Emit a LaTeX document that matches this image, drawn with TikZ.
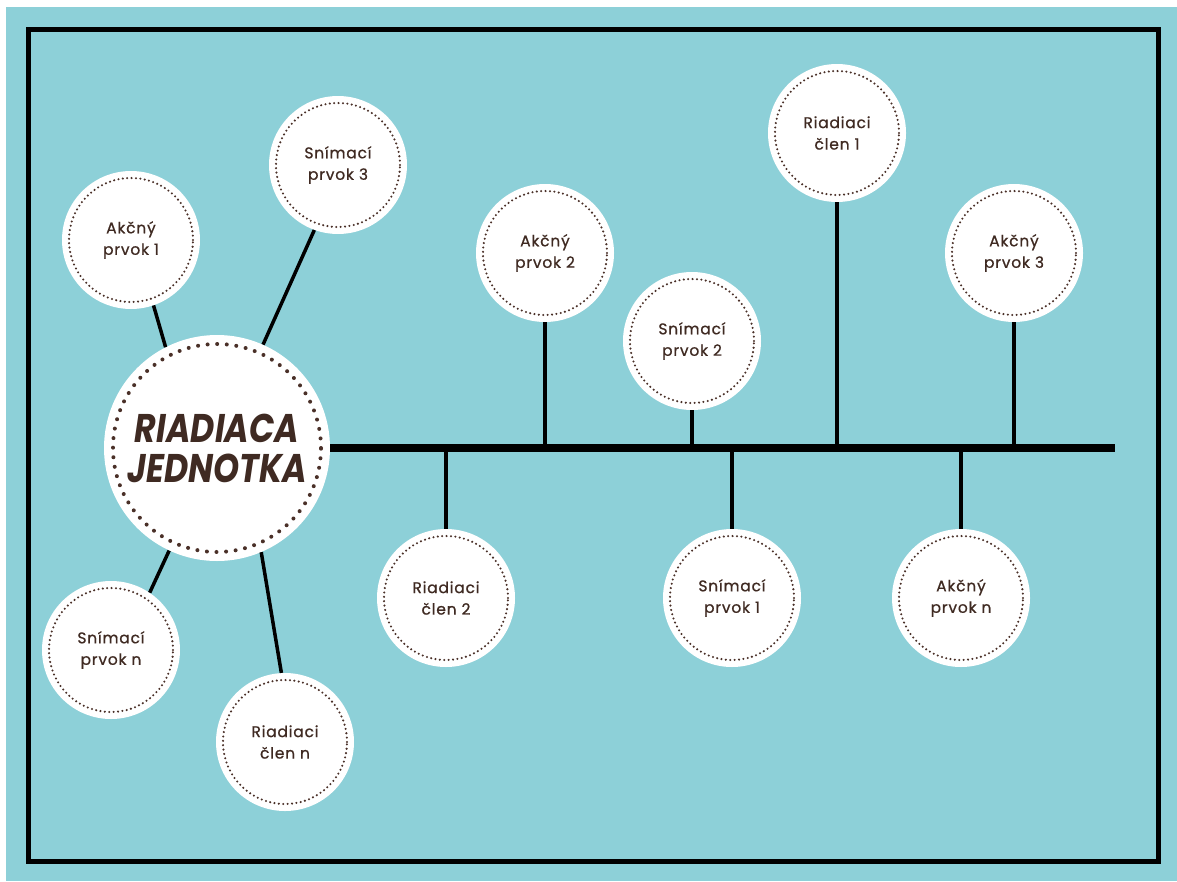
\documentclass[tikz,border=0pt]{standalone}
\usepackage{fontspec}
\setmainfont{Poppins}
\newfontfamily\labelfont[FakeBold=0.7,LetterSpace=5]{Poppins}
\definecolor{sea}{HTML}{8DD0D8}
\definecolor{ink}{HTML}{3F2A22}
\definecolor{dotc}{HTML}{4A3028}
\begin{document}
\begin{tikzpicture}[x=1pt,y=-1pt,
  bubble/.style={circle,fill=white,minimum size=138pt,inner sep=0pt,text=ink,
    font=\labelfont\fontsize{15.5}{21.5}\selectfont,align=center},
  hub/.style={circle,fill=white,minimum size=226pt,inner sep=0pt,text=ink,
    font=\fontsize{40}{46}\selectfont\bfseries\itshape,align=center},
  ring/.style={draw=dotc,line width=2.3pt,line cap=round,dash pattern=on 0pt off 4.4pt},
  bigring/.style={draw=dotc,line width=4pt,line cap=round,dash pattern=on 0pt off 9.6pt},
  spoke/.style={draw=black,line width=3.5pt},
  spine/.style={draw=black,line width=8.5pt}]
\useasboundingbox (0,0) rectangle (1177,881);
% paper, sea-blue card and its black frame
\fill[white] (0,0) rectangle (1177,881);
\fill[sea] (6,7) rectangle (1177,881);
\draw[line width=5pt] (28.5,29.5) rectangle (1158.5,861.5);

% central unit
\node[hub] (hub) at (217,448) {\scalebox{0.83}[1]{RIADIACA}\\[-6pt]\scalebox{0.83}[1]{JEDNOTKA}};

% elements grouped round the hub
\node[bubble] (ap1) at (131,240) {Akčný\\prvok 1};
\node[bubble] (sp3) at (338,165) {Snímací\\prvok 3};
\node[bubble] (spn) at (111,650) {Snímací\\prvok n};
\node[bubble] (rcn) at (285,742) {Riadiaci\\člen n};

% elements along the bus
\node[bubble] (ap2) at (545,253) {Akčný\\prvok 2};
\node[bubble] (sp2) at (692,341) {Snímací\\prvok 2};
\node[bubble] (rc1) at (837,133) {Riadiaci\\člen 1};
\node[bubble] (ap3) at (1014,253) {Akčný\\prvok 3};
\node[bubble] (rc2) at (446,598) {Riadiaci\\člen 2};
\node[bubble] (sp1) at (732,598) {Snímací\\prvok 1};
\node[bubble] (apn) at (961,598) {Akčný\\prvok n};

% bus line
\coordinate (busend) at (1115,448);
\draw[spine] (hub.east) -- (busend);

% links from the hub
\draw[spoke] (ap1.-71) -- (hub.117);
\draw[spoke] (sp3.-110) -- (hub.66);
\draw[spoke] (spn.56) -- (hub.-115);
\draw[spoke] (rcn.93) -- (hub.-67);

% drops to the bus
\foreach \n in {ap2,sp2,rc1,ap3}
  \draw[spoke] (\n.south) -- (\n.south |- busend);
\foreach \n in {rc2,sp1,apn}
  \draw[spoke] (\n.north) -- (\n.north |- busend);

% dotted inner rings
\draw[bigring] (hub) circle[radius=104pt];
\foreach \n in {ap1,sp3,spn,rcn,ap2,sp2,rc1,ap3,rc2,sp1,apn}
  \draw[ring] (\n) circle[radius=62pt];
\end{tikzpicture}
\end{document}
